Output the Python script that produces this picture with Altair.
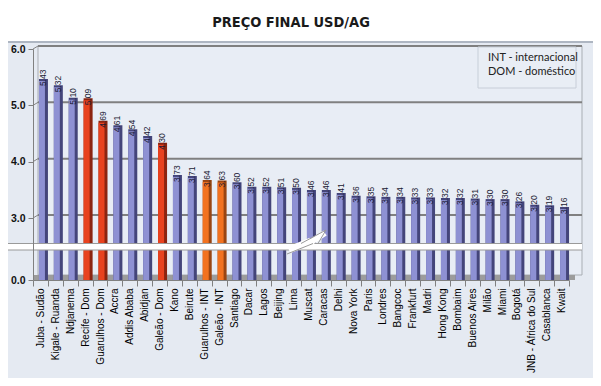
import altair as alt
import pandas as pd

cities = ["Juba - Sudão", "Kigale - Ruanda", "Ndjanema", "Recife - Dom", "Guarulhos - Dom",
          "Accra", "Addis Ababa", "Abidjan", "Galeão - Dom", "Kano", "Beirute",
          "Guarulhos - INT", "Galeão - INT", "Santiago", "Dacar", "Lagos", "Beijing", "Lima",
          "Muscat", "Caracas", "Delhi", "Nova York", "Paris", "Londres", "Bangcoc",
          "Frankfurt", "Madri", "Hong Kong", "Bombaim", "Buenos Aires", "Milão", "Miami",
          "Bogotá", "JNB - África do Sul", "Casablanca", "Kwait"]
values = [5.43, 5.32, 5.10, 5.09, 4.69, 4.61, 4.54, 4.42, 4.30, 3.73, 3.71,
          3.64, 3.63, 3.60, 3.52, 3.52, 3.51, 3.50, 3.46, 3.46, 3.41, 3.36, 3.35,
          3.34, 3.34, 3.33, 3.33, 3.32, 3.32, 3.31, 3.30, 3.30, 3.26, 3.20, 3.19, 3.16]
kinds = ["OUT", "OUT", "OUT", "DOM", "DOM", "OUT", "OUT", "OUT", "DOM", "OUT", "OUT",
         "INT", "INT"] + ["OUT"] * 23
y_ticks = [0, 3, 4, 5, 6]
title_text = "PREÇO FINAL USD/AG"
legend_lines = ["INT - internacional", "DOM - doméstico"]

df = pd.DataFrame({"city": cities, "value": values, "kind": kinds, "kind_side": kinds})
grid_df = pd.DataFrame({"v": y_ticks[1:]})

W, H = 536, 234
BG = "#e5eaf2"

xenc = alt.X("city:N", sort=cities,
             scale=alt.Scale(paddingInner=0, paddingOuter=0),
             axis=alt.Axis(title=None, labelAngle=270, tickBand="extent", labelFontSize=10,
                           labelFont="Liberation Sans", labelColor="#000000", tickSize=6,
                           tickColor="#808080", domainColor="#808080", labelPadding=2,
                           labelLimit=200, zindex=2))
yscale = alt.Scale(domain=[0, 3, 6], range=[234, 172, 3])
yenc = alt.Y("value:Q", scale=yscale,
             axis=alt.Axis(title=None, values=y_ticks, format=".1f", grid=False,
                           labelFontSize=10.5, labelFont="Liberation Sans", labelFontWeight="bold",
                           labelColor="#111111", tickSize=5, tickColor="#808080",
                           domainColor="#808080", labelPadding=3, zindex=2))

front_scale = alt.Scale(domain=["OUT", "DOM", "INT"], range=["#8e91d3", "#e8421f", "#f27220"])
side_scale = alt.Scale(domain=["OUT", "DOM", "INT"], range=["#44457a", "#8c2410", "#9a4512"])

base = alt.Chart(df)
one = alt.Chart(pd.DataFrame({"a": [0]}))

frame = one.mark_rect(fill=BG, stroke="#8ea6cf", strokeWidth=2, cornerRadius=8).encode(
    x=alt.value(-30), x2=alt.value(564), y=alt.value(-43), y2=alt.value(335))
title_bg = one.mark_rect(fill="white", cornerRadiusTopLeft=7, cornerRadiusTopRight=7).encode(
    x=alt.value(-29), x2=alt.value(563), y=alt.value(-42), y2=alt.value(-4))
title_line = one.mark_rule(stroke="#aeb6c2", strokeWidth=2).encode(
    x=alt.value(-29), x2=alt.value(563), y=alt.value(-4))
wall = one.mark_rect(fill="#e8edf5", stroke="#a9adb3", strokeWidth=1).encode(
    x=alt.value(5), x2=alt.value(549), y=alt.value(0), y2=alt.value(229))
floor = one.mark_rect(fill="#9c9c9c").encode(
    x=alt.value(0), x2=alt.value(542), y=alt.value(229), y2=alt.value(234))

grid = alt.Chart(grid_df).mark_rule(stroke="#808080", strokeWidth=2, yOffset=-3).encode(
    x=alt.value(5), x2=alt.value(549), y=alt.Y("v:Q", scale=yscale))
grid_diag = alt.Chart(grid_df).mark_rule(stroke="#858585", strokeWidth=1, y2Offset=-3).encode(
    x=alt.value(0), x2=alt.value(5), y=alt.Y("v:Q", scale=yscale), y2="v:Q")

side = base.mark_bar(size=9, xOffset=3, yOffset=-2).encode(
    x=xenc, y=yenc, y2=alt.datum(0),
    color=alt.Color("kind_side:N", scale=side_scale, legend=None))
front = base.mark_bar(size=6, xOffset=1.5).encode(
    x=xenc, y=yenc, y2=alt.datum(0),
    color=alt.Color("kind:N", scale=front_scale, legend=None))
labels = base.mark_text(angle=270, align="left", baseline="middle", fontSize=8.5,
                        font="Liberation Sans", color="#1a1a33", xOffset=2.5, yOffset=5).encode(
    x=xenc, y=yenc, text=alt.Text("value:Q", format=".2f"))

band = one.mark_rect(fill="white").encode(
    x=alt.value(-29), x2=alt.value(549), y=alt.value(197.5), y2=alt.value(204))
band_top = one.mark_rule(stroke="#9a9a9a", strokeWidth=1.2).encode(
    x=alt.value(-29), x2=alt.value(549), y=alt.value(197.5))
band_bot = one.mark_rule(stroke="#9a9a9a", strokeWidth=1.2).encode(
    x=alt.value(-29), x2=alt.value(549), y=alt.value(204))
bolt1 = one.mark_rule(stroke="white", strokeWidth=7).encode(
    x=alt.value(256), x2=alt.value(278), y=alt.value(204), y2=alt.value(195))
bolt2 = one.mark_rule(stroke="white", strokeWidth=6).encode(
    x=alt.value(272), x2=alt.value(292), y=alt.value(200), y2=alt.value(187))
bolt_e1 = one.mark_rule(stroke="#9a9a9a", strokeWidth=1).encode(
    x=alt.value(254), x2=alt.value(280), y=alt.value(208), y2=alt.value(197.5))
bolt_e2 = one.mark_rule(stroke="#9a9a9a", strokeWidth=1).encode(
    x=alt.value(268), x2=alt.value(293), y=alt.value(197.5), y2=alt.value(184))
bolt_e3 = one.mark_rule(stroke="#9a9a9a", strokeWidth=1).encode(
    x=alt.value(293), x2=alt.value(285), y=alt.value(184), y2=alt.value(197.5))

legend_box = one.mark_rect(fill="#e9eef5", stroke="#c7ced8", strokeWidth=1).encode(
    x=alt.value(445), x2=alt.value(543), y=alt.value(1), y2=alt.value(42))
leg1 = one.mark_text(align="left", baseline="middle", fontSize=11, font="Lato",
                     color="#222222", text=legend_lines[0]).encode(
    x=alt.value(455), y=alt.value(12))
leg2 = one.mark_text(align="left", baseline="middle", fontSize=11, font="Lato",
                     color="#222222", text=legend_lines[1]).encode(
    x=alt.value(455), y=alt.value(26))
title = one.mark_text(align="center", baseline="middle", fontSize=14.5, fontWeight="bold",
                      font="Liberation Sans Narrow, DejaVu Sans Condensed, sans-serif",
                      color="#1a1a1a", text=title_text).encode(
    x=alt.value(258), y=alt.value(-23))

chart = alt.layer(
    frame, title_bg, title_line, wall, grid, grid_diag, floor,
    side, front, labels, band, band_top, band_bot, bolt1, bolt2, bolt_e1, bolt_e2, bolt_e3,
    legend_box, leg1, leg2, title
).resolve_scale(color="independent").properties(
    width=W, height=H,
    autosize=alt.AutoSizeParams(type="none"),
    padding={"left": 25, "top": 38, "right": 24, "bottom": 98},
    background="white"
).configure_view(stroke=None)

chart.save("out.html", embed_options={"renderer": "svg", "actions": False})
